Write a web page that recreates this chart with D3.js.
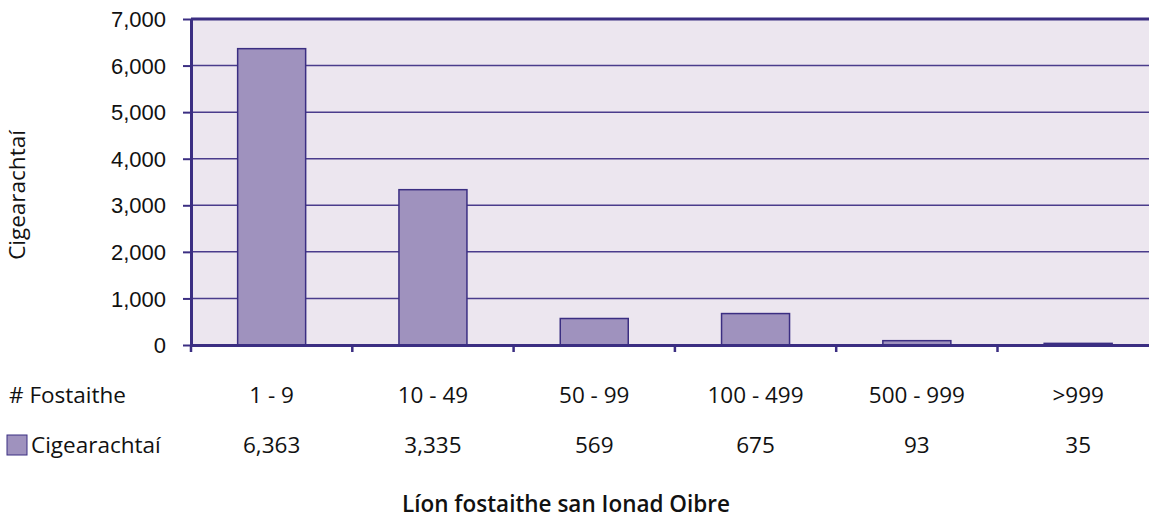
<!DOCTYPE html>
<html>
<head>
<meta charset="utf-8">
<script src="https://cdn.jsdelivr.net/npm/d3@7"></script>
<style>
body { margin: 0; background: #fff; }
svg { display: block; }
.tbl { font-family: "Open Sans", "Lato", sans-serif; font-size: 22.5px; fill: #111; }
</style>
</head>
<body>
<div id="chart"></div>
<script>
(function(d3) {
'use strict';

var categories = ['1 - 9', '10 - 49', '50 - 99', '100 - 499', '500 - 999', '>999'];
var values = [6363, 3335, 569, 675, 93, 35];
var yTicks = [0, 1000, 2000, 3000, 4000, 5000, 6000, 7000];
var seriesName = 'Cigearachtaí';
var rowHeader = '# Fostaithe';
var xTitle = 'Líon fostaithe san Ionad Oibre';
var yTitle = 'Cigearachtaí';

var W = 1149, H = 518;
var left = 191, top = 19, bottom = 345;
var band = 161.3;

var dark = '#3b2e82';

var x = d3.scaleBand()
	.domain(categories)
	.range([left, left + band * categories.length])
	.paddingInner(0)
	.paddingOuter(0);

var y = d3.scaleLinear()
	.domain([0, 7000])
	.range([bottom, top]);

var svg = d3.select('#chart').append('svg')
	.attr('width', W)
	.attr('height', H);

// plot background
svg.append('rect')
	.attr('x', left)
	.attr('y', top)
	.attr('width', band * categories.length)
	.attr('height', bottom - top)
	.attr('fill', '#ece6ef');

// gridlines
svg.append('g')
	.selectAll('line')
	.data(yTicks.filter(function(d) { return d > 0 && d < 7000; }))
	.enter().append('line')
	.attr('x1', left)
	.attr('x2', W + 20)
	.attr('y1', function(d) { return y(d); })
	.attr('y2', function(d) { return y(d); })
	.attr('stroke', '#4a3c8c')
	.attr('stroke-width', 1.5);

// top border
svg.append('line')
	.attr('x1', left).attr('x2', W + 20)
	.attr('y1', y(7000)).attr('y2', y(7000))
	.attr('stroke', dark)
	.attr('stroke-width', 3);

// bars
var bw = 68;
svg.append('g')
	.selectAll('rect')
	.data(values)
	.enter().append('rect')
	.attr('x', function(d, i) { return x(categories[i]) + x.bandwidth() / 2 - bw / 2; })
	.attr('y', function(d) { return y(d); })
	.attr('width', bw)
	.attr('height', function(d) { return bottom - y(d); })
	.attr('fill', '#9f92be')
	.attr('stroke', dark)
	.attr('stroke-width', 1.5);

// y axis
var yAxis = d3.axisLeft(y)
	.tickValues(yTicks)
	.tickFormat(d3.format(','))
	.tickSize(8)
	.tickPadding(17)
	.tickSizeOuter(0);

var gy = svg.append('g')
	.attr('transform', 'translate(' + left + ',0)')
	.call(yAxis);
gy.select('.domain').attr('stroke', dark).attr('stroke-width', 3);
gy.selectAll('.tick line').attr('stroke', dark).attr('stroke-width', 2);
gy.selectAll('.tick text')
	.attr('dy', '0.35em')
	.style('font-family', '"Liberation Sans", Arial, sans-serif')
	.style('font-size', '22px')
	.style('fill', '#111');

// x axis
var xAxis = d3.axisBottom(x)
	.tickValues([])
	.tickSizeOuter(0);
var gx = svg.append('g')
	.attr('transform', 'translate(0,' + bottom + ')')
	.call(xAxis);
gx.select('.domain').attr('stroke', dark).attr('stroke-width', 3);

// boundary ticks
gx.selectAll('.bt')
	.data(categories)
	.enter().append('line')
	.attr('class', 'bt')
	.attr('x1', function(d) { return x(d); })
	.attr('x2', function(d) { return x(d); })
	.attr('y1', 0)
	.attr('y2', 7)
	.attr('stroke', dark)
	.attr('stroke-width', 2.5);

// y title
svg.append('text')
	.attr('class', 'tbl')
	.attr('transform', 'translate(25,195) rotate(-90)')
	.attr('text-anchor', 'middle')
	.text(yTitle);

// data table row 1
svg.append('text')
	.attr('class', 'tbl')
	.attr('x', 9)
	.attr('y', 403)
	.text(rowHeader);

svg.append('g')
	.selectAll('text')
	.data(categories)
	.enter().append('text')
	.attr('class', 'tbl')
	.attr('x', function(d) { return x(d) + x.bandwidth() / 2; })
	.attr('y', 403)
	.attr('text-anchor', 'middle')
	.text(function(d) { return d; });

// data table row 2
svg.append('rect')
	.attr('x', 7)
	.attr('y', 435)
	.attr('width', 20)
	.attr('height', 20)
	.attr('fill', '#9f92be')
	.attr('stroke', dark)
	.attr('stroke-width', 1);

svg.append('text')
	.attr('class', 'tbl')
	.attr('x', 31)
	.attr('y', 453)
	.text(seriesName);

svg.append('g')
	.selectAll('text')
	.data(values)
	.enter().append('text')
	.attr('class', 'tbl')
	.attr('x', function(d, i) { return x(categories[i]) + x.bandwidth() / 2; })
	.attr('y', 453)
	.attr('text-anchor', 'middle')
	.text(function(d) { return d3.format(',')(d); });

// x title
svg.append('text')
	.attr('class', 'tbl')
	.attr('x', 566)
	.attr('y', 512)
	.attr('text-anchor', 'middle')
	.style('font-weight', '600')
	.text(xTitle);

})(window.d3);
</script>
</body>
</html>
